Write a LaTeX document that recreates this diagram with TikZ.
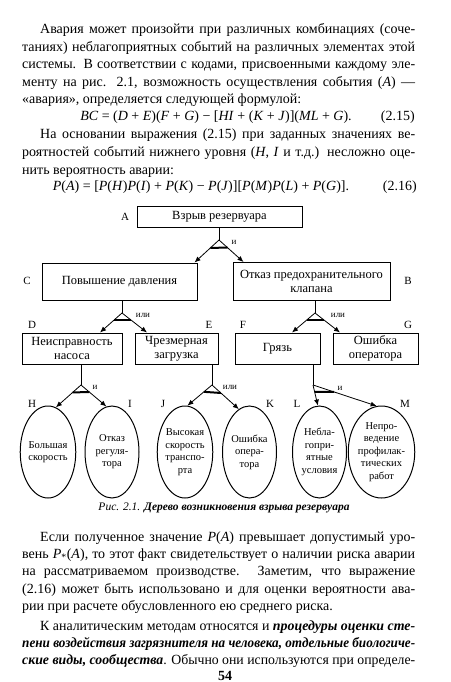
\documentclass[tikz,border=0pt]{standalone}
\usepackage{fontspec}
\usepackage{graphicx}
\setmainfont{Liberation Serif}
\usetikzlibrary{arrows.meta,shapes.geometric,calc}
\newsavebox\jlbox
\newcommand\jl[2]{\sbox\jlbox{#2}\ifdim\wd\jlbox>#1\relax\resizebox{#1}{\height}{\usebox\jlbox}\else\makebox[#1][s]{#2}\fi}
\begin{document}
\begin{tikzpicture}[x=1pt,y=-1pt,
  box/.style={draw,line width=1pt,align=center,inner sep=1pt,font=\fontsize{12.5}{14}\selectfont},
  ell/.style={draw,ellipse,line width=1pt,minimum width=54,minimum height=92,inner sep=0pt,align=center,font=\fontsize{10.5}{12.5}\selectfont},
  arr/.style={-{Latex[length=6pt,width=5pt]},line width=0.8pt},
  gbase/.style={line width=2pt},
  lbl/.style={font=\fontsize{11}{12}\selectfont,inner sep=0pt},
  glbl/.style={font=\fontsize{9}{10}\selectfont,inner sep=0pt},
  tl/.style={anchor=base west,inner sep=0pt,font=\fontsize{14}{17}\selectfont},
  tr/.style={anchor=base east,inner sep=0pt,font=\fontsize{14}{17}\selectfont},
  tc/.style={anchor=base,inner sep=0pt,font=\fontsize{14}{17}\selectfont},
]
\useasboundingbox (0,0) rectangle (450,682);

% ---------- top text ----------
\node[tl] (p1a) at (40,34) {\jl{375pt}{Авария может произойти при различных комбинациях (соче-}};
\node[tl] (p1b) at (22,51.5) {\jl{393pt}{таниях) неблагоприятных событий на различных элементах этой}};
\node[tl] (p1c) at (22,69) {\jl{393pt}{системы. В соответствии с кодами, присвоенными каждому эле-}};
\node[tl] (p1d) at (22,86.5) {\jl{393pt}{менту на рис. 2.1, возможность осуществления события (\textit{A}) —}};
\node[tl] (p1e) at (22,104) {«авария», определяется следующей формулой:};
\node[tc] (f1) at (216,121) {\textit{BC} = (\textit{D} + \textit{E})(\textit{F} + \textit{G}) − [\textit{HI} + (\textit{K} + \textit{J})](\textit{ML} + \textit{G}).};
\node[tr] (f1n) at (415,121) {(2.15)};

\node[tl] (p2a) at (40,139) {\jl{375pt}{На основании выражения (2.15) при заданных значениях ве-}};
\node[tl] (p2b) at (22,156.5) {\jl{393pt}{роятностей событий нижнего уровня (\textit{H}, \textit{I} и т.д.) несложно оце-}};
\node[tl] (p2c) at (22,174) {нить вероятность аварии:};
\node[tc] (f2) at (201,190) {\textit{P}(\textit{A}) = [\textit{P}(\textit{H})\textit{P}(\textit{I}) + \textit{P}(\textit{K}) − \textit{P}(\textit{J})][\textit{P}(\textit{M})\textit{P}(\textit{L}) + \textit{P}(\textit{G})].};
\node[tr] (f2n) at (417,190) {(2.16)};

% ---------- diagram boxes ----------
\node[box,minimum width=165,minimum height=21] (A) at (219.5,216.5) {Взрыв резервуара};
\node[box,minimum width=155,minimum height=37] (C) at (119.5,281.5) {Повышение давления};
\node[box,minimum width=157,minimum height=38] (B) at (311.5,281.5) {Отказ предохранительного\\клапана};
\node[box,minimum width=100,minimum height=31] (D) at (72,348.5) {Неисправность\\насоса};
\node[box,minimum width=83,minimum height=31] (E) at (176.5,348.5) {Чрезмерная\\загрузка};
\node[box,minimum width=85,minimum height=31] (F) at (277.5,348.5) {Грязь};
\node[box,minimum width=85,minimum height=31] (G) at (375.5,348.5) {Ошибка\\оператора};

% ---------- ellipses ----------
\node[ell] (H) at (48,452) {Большая\\скорость};
\node[ell] (I) at (112,452) {Отказ\\регуля-\\тора};
\node[ell] (J) at (185,452) {Высокая\\скорость\\транспо-\\рта};
\node[ell] (K) at (249.5,452) {Ошибка\\опера-\\тора};
\node[ell] (L) at (319.5,452) {Небла-\\гопри-\\ятные\\условия};
\node[ell] (M) at (381.5,452) {Непро-\\ведение\\профилак-\\тических\\работ};

% ---------- letter labels ----------
\node[lbl] (lA) at (125,217) {A};
\node[lbl] (lC) at (27,281) {C};
\node[lbl] (lB) at (408,281) {B};
\node[lbl] (lD) at (32,325) {D};
\node[lbl] (lE) at (209,325) {E};
\node[lbl] (lF) at (243,325) {F};
\node[lbl] (lG) at (408,325) {G};
\node[lbl] (lH) at (32,404) {H};
\node[lbl] (lI) at (130,404) {I};
\node[lbl] (lJ) at (163,404) {J};
\node[lbl] (lK) at (270,404) {K};
\node[lbl] (lL) at (297,404) {L};
\node[lbl] (lM) at (405,404) {M};

% ---------- gates ----------
\coordinate (gA) at (219,240);
\coordinate (gC) at (122,313);
\coordinate (gB) at (315,313);
\coordinate (gD) at (81,385);
\coordinate (gE) at (212,385);
\coordinate (gF) at (313,385);

\coordinate (tAC) at ([xshift=-3pt]C.north east);
\coordinate (tAB) at ([xshift=11pt]B.north west);
\coordinate (tCD) at ([xshift=28pt]D.north);
\coordinate (tCE) at ([xshift=-29.5pt]E.north);
\coordinate (tBF) at ([xshift=14.5pt]F.north);
\coordinate (tBG) at ([xshift=-35.5pt]G.north);

\draw[line width=0.8pt] (A.south -| gA) -- (gA);
\draw[line width=0.8pt] (C.south -| gC) -- (gC);
\draw[line width=0.8pt] (B.south -| gB) -- (gB);
\draw[line width=0.8pt] (D.south -| gD) -- (gD);
\draw[line width=0.8pt] (E.south -| gE) -- (gE);
\draw[line width=0.8pt] (F.south -| gF) -- (gF);

\draw[arr] (gA) -- (tAC);
\draw[arr] (gA) -- (tAB);
\draw[gbase] ($(gA)!0.348!(tAC)$) -- ($(gA)!0.348!(tAB)$);

\draw[arr] (gC) -- (tCD);
\draw[arr] (gC) -- (tCE);
\draw[gbase] ($(gC)!0.35!(tCD)$) -- ($(gC)!0.35!(tCE)$);

\draw[arr] (gB) -- (tBF);
\draw[arr] (gB) -- (tBG);
\draw[gbase] ($(gB)!0.35!(tBF)$) -- ($(gB)!0.35!(tBG)$);

\draw[arr] (gD) -- (H.80);
\draw[arr] (gD) -- (I.97);
\draw[gbase] ($(gD)!0.33!(H.80)$) -- ($(gD)!0.33!(I.97)$);

\draw[arr] (gE) -- (J.87);
\draw[arr] (gE) -- (K.104);
\draw[gbase] ($(gE)!0.33!(J.87)$) -- ($(gE)!0.33!(K.104)$);

\draw[arr] (gF) -- (L.92);
\draw[arr] (gF) -- (M.96);
\draw[gbase] ($(gF)!0.33!(L.92)$) -- ($(gF)!0.33!(M.96)$);

\node[glbl] (nA) at (234,242) {и};
\node[glbl] (nC) at (143,315) {или};
\node[glbl] (nB) at (338,315) {или};
\node[glbl] (nD) at (95,387) {и};
\node[glbl] (nE) at (230,387) {или};
\node[glbl] (nF) at (340,388) {и};

% ---------- caption ----------
\node[inner sep=0pt,font=\fontsize{11.5}{13}\selectfont] (cap) at (224,508) {\textit{Рис. 2.1. \textbf{Дерево возникновения взрыва резервуара}}};

% ---------- bottom text ----------
\node[tl] (p3a) at (40,541) {\jl{375pt}{Если полученное значение \textit{P}(\textit{A}) превышает допустимый уро-}};
\node[tl] (p3b) at (22,558) {\jl{393pt}{вень \textit{P}\textsubscript{*}(\textit{A}), то этот факт свидетельствует о наличии риска аварии}};
\node[tl] (p3c) at (22,575.5) {\jl{393pt}{на рассматриваемом производстве. Заметим, что выражение}};
\node[tl] (p3d) at (22,593) {\jl{393pt}{(2.16) может быть использовано и для оценки вероятности ава-}};
\node[tl] (p3e) at (22,610) {рии при расчете обусловленного ею среднего риска.};
\node[tl] (p4a) at (40,630) {\jl{375pt}{К аналитическим методам относятся и \textbf{\textit{процедуры оценки сте-}}}};
\node[tl] (p4b) at (22,647) {\jl{393pt}{\textbf{\textit{пени воздействия загрязнителя на человека, отдельные биологиче-}}}};
\node[tl] (p4c) at (22,664) {\jl{393pt}{\textbf{\textit{ские виды, сообщества}}. Обычно они используются при определе-}};
\node[tc,font=\bfseries\fontsize{14}{17}\selectfont] (pg) at (225,680) {54};
\end{tikzpicture}
\end{document}
